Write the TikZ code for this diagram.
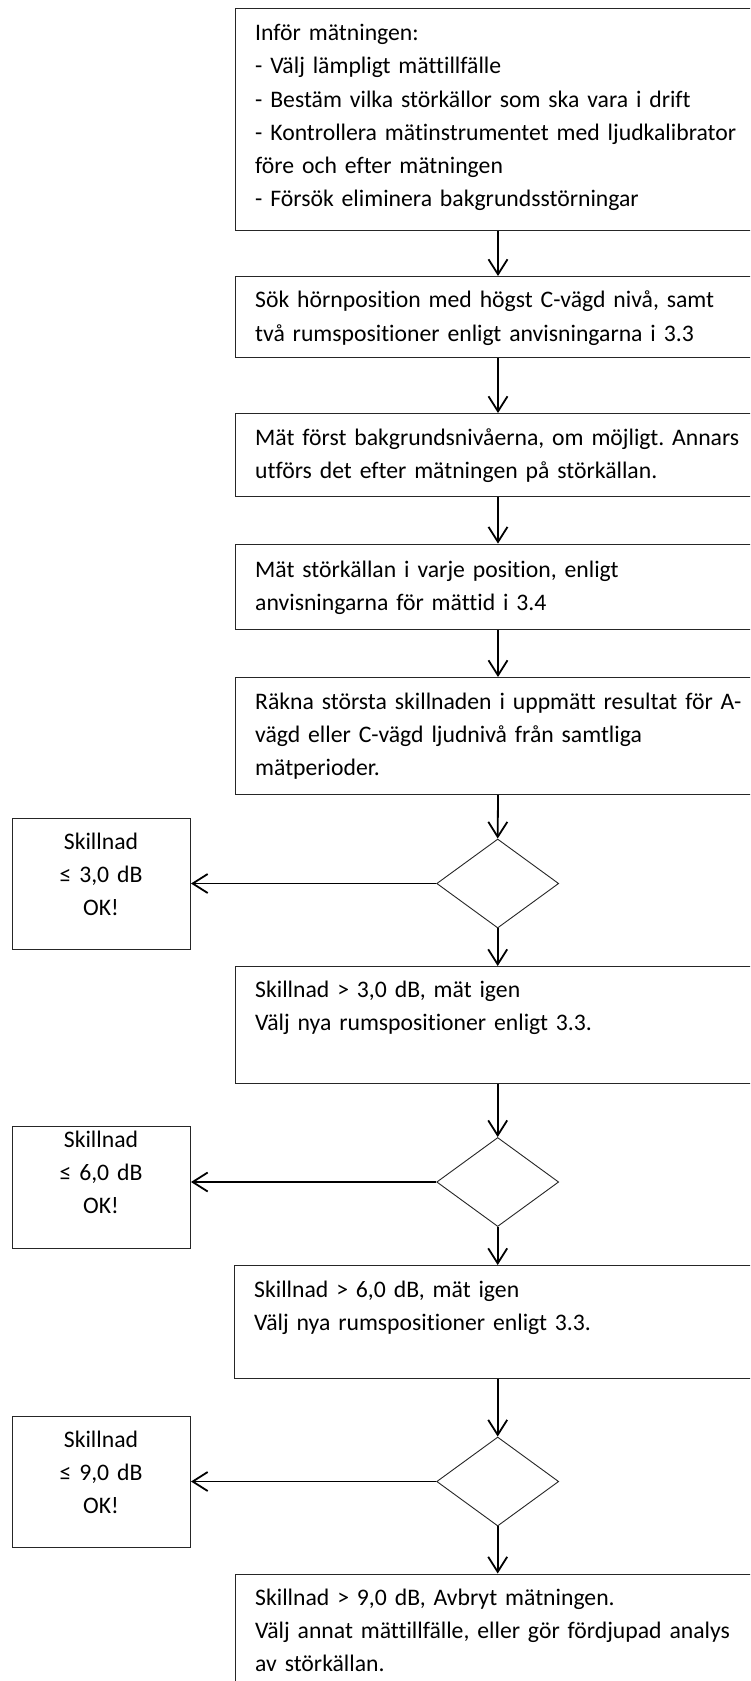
\documentclass[tikz,border=0pt]{standalone}
\usepackage{fontspec}
\setmainfont{Carlito}[Ligatures={NoCommon},RawFeature={-liga;-clig}]
\frenchspacing
\usetikzlibrary{arrows.meta,shapes.geometric}
\begin{document}
\begin{tikzpicture}[x=1pt,y=-1pt,
  box/.style={draw=black!85,line width=1pt,inner sep=0pt,anchor=north west},
  diam/.style={diamond,draw=black!85,line width=0.9pt,minimum width=122,minimum height=89,inner sep=0pt},
  txt/.style={font=\fontsize{23.7}{33.2}\selectfont,text width=600,align=left,inner sep=0pt,anchor=base west},
  ctxt/.style={font=\fontsize{23.7}{33.2}\selectfont,text width=178,align=center,inner sep=0pt,anchor=base},
  arr/.style={line width=1.8pt,-{Straight Barb[length=15pt,width=19pt,line width=1.8pt]}}]
\useasboundingbox (0,0) rectangle (750,1681);
\clip (0,0) rectangle (750,1681);
\fill[white] (0,0) rectangle (750,1681);
% main boxes
\node[box,minimum width=525,minimum height=222.5] (b1) at (235,7.9) {};
\node[box,minimum width=525,minimum height=81] (b2) at (235,276) {};
\node[box,minimum width=525,minimum height=83] (b3) at (235,413) {};
\node[box,minimum width=525,minimum height=85.4] (b4) at (235,543.6) {};
\node[box,minimum width=525,minimum height=117] (b5) at (235,677) {};
\node[box,minimum width=525,minimum height=117] (b6) at (235,966) {};
\node[box,minimum width=526.5,minimum height=113] (b7) at (233.5,1265) {};
\node[box,minimum width=525,minimum height=130] (b8) at (235,1573.5) {};
% side boxes
\node[box,minimum width=178,minimum height=131] (l1) at (12,818) {};
\node[box,minimum width=178,minimum height=121.5] (l2) at (12,1126) {};
\node[box,minimum width=178,minimum height=131] (l3) at (12,1416) {};
% decisions
\node[diam] (d1) at (497.7,883.5) {};
\node[diam] (d2) at (497.7,1182) {};
\node[diam] (d3) at (497.7,1481.5) {};
% texts
\node[txt] (t1) at (255,40.7) {Inför mätningen:\\- Välj lämpligt mättillfälle\\- Bestäm vilka störkällor som ska vara i drift\\- Kontrollera mätinstrumentet med ljudkalibrator\\före och efter mätningen\\- Försök eliminera bakgrundsstörningar};
\node[txt] (t2) at (255,307.8) {Sök hörnposition med högst C-vägd nivå, samt\\två rumspositioner enligt anvisningarna i 3.3};
\node[txt] (t3) at (255,445) {Mät först bakgrundsnivåerna, om möjligt. Annars\\utförs det efter mätningen på störkällan.};
\node[txt] (t4) at (255,577) {Mät störkällan i varje position, enligt\\anvisningarna för mättid i 3.4};
\node[txt] (t5) at (255,709.2) {Räkna största skillnaden i uppmätt resultat för A-\\vägd eller C-vägd ljudnivå från samtliga\\mätperioder.};
\node[txt] (t6) at (255,997.7) {Skillnad > 3,0 dB, mät igen\\Välj nya rumspositioner enligt 3.3.};
\node[txt] (t7) at (254,1297) {Skillnad > 6,0 dB, mät igen\\Välj nya rumspositioner enligt 3.3.};
\node[txt] (t8) at (255,1605) {Skillnad > 9,0 dB, Avbryt mätningen.\\Välj annat mättillfälle, eller gör fördjupad analys\\av störkällan.};
\node[ctxt] (s1) at (101,849.3) {Skillnad\\≤ 3,0 dB\\OK!};
\node[ctxt] (s2) at (101,1147.3) {Skillnad\\≤ 6,0 dB\\OK!};
\node[ctxt] (s3) at (101,1447) {Skillnad\\≤ 9,0 dB\\OK!};
% connectors
\draw[arr] (b1.south) -- (b2.north);
\draw[arr] (b2.south) -- (b3.north);
\draw[arr] (b3.south) -- (b4.north);
\draw[arr] (b4.south) -- (b5.north);
\draw[arr] (b5.south) -- (d1.north);
\draw[arr] (d1.south) -- (b6.north -| d1.south);
\draw[arr] (b6.south -| d2.north) -- (d2.north);
\draw[arr] (d2.south) -- (b7.north -| d2.south);
\draw[arr] (b7.south -| d3.north) -- (d3.north);
\draw[arr] (d3.south) -- (b8.north -| d3.south);
\draw[arr] (d1.west) -- (d1.west -| l1.east);
\draw[arr] (d2.west) -- (d2.west -| l2.east);
\draw[arr] (d3.west) -- (d3.west -| l3.east);
\end{tikzpicture}
\end{document}
